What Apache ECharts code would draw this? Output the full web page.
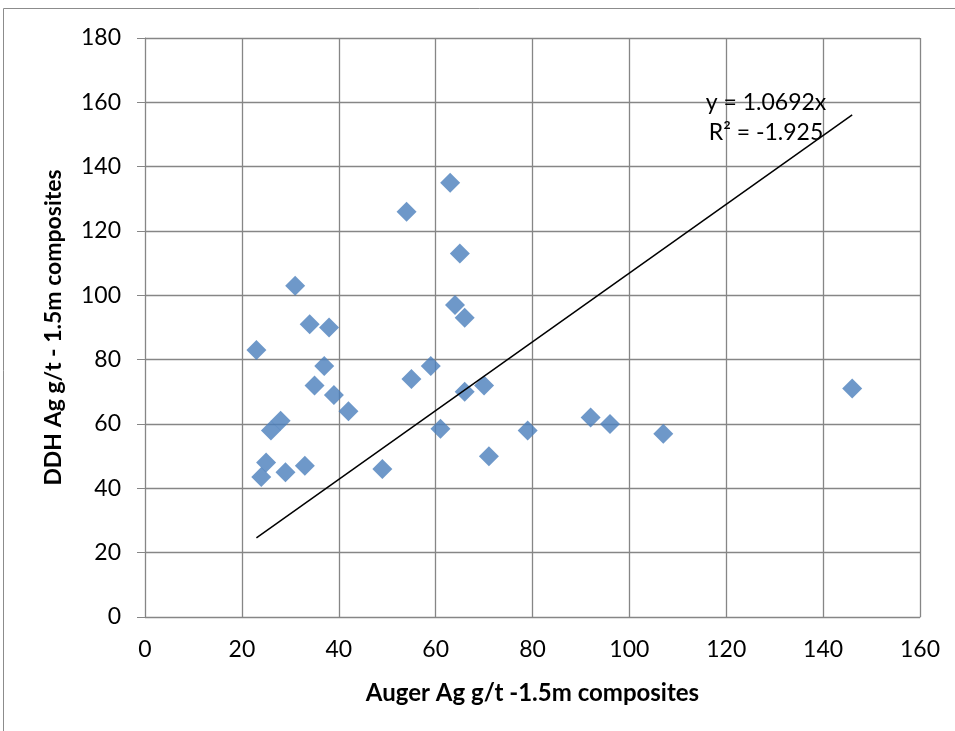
<!DOCTYPE html>
<html>
<head>
<meta charset="utf-8">
<script src="https://cdn.jsdelivr.net/npm/echarts@6/dist/echarts.min.js"></script>
<style>
  html, body { margin: 0; padding: 0; background: #fff; }
  #chart { width: 955px; height: 731px; }
</style>
</head>
<body>
<div id="chart"></div>
<script>
// Auger vs DDH composites (g/t Ag)
const augerAg = [23, 24, 25, 26, 28, 29, 31, 33, 34, 35, 37, 38, 39, 42, 49, 54, 55, 59, 61, 63, 64, 65, 66, 66, 70, 71, 79, 92, 96, 107, 146];
const ddhAg = [83, 43.5, 48, 58, 61, 45, 103, 47, 91, 72, 78, 90, 69, 64, 46, 126, 74, 78, 58.5, 135, 97, 113, 93, 70, 72, 50, 58, 62, 60, 57, 71];
const trendSlope = 1.0692;
const trendLabel = ["y = 1.0692x", "R² = -1.925"];
const xTicks = { min: 0, max: 160, interval: 20 };
const yTicks = { min: 0, max: 180, interval: 20 };

const points = augerAg.map((x, i) => [x, ddhAg[i]]);
const xLo = Math.min(...augerAg);
const xHi = Math.max(...augerAg);
const trendData = [[xLo, xLo * trendSlope], [xHi, xHi * trendSlope]];

const font = "Lato, 'Open Sans', sans-serif";
const gridColor = "#868686";

const chart = echarts.init(document.getElementById("chart"));
chart.setOption({
  animation: false,
  backgroundColor: "#fff",
  grid: { left: 145, right: 35, top: 38, bottom: 114 },
  xAxis: {
    type: "value",
    min: xTicks.min,
    max: xTicks.max,
    interval: xTicks.interval,
    name: "Auger Ag g/t -1.5m composites",
    nameLocation: "middle",
    nameGap: 64,
    nameTextStyle: { fontFamily: font, fontSize: 24, fontWeight: "bold", color: "#000" },
    axisLine: { lineStyle: { color: gridColor } },
    axisTick: { show: false },
    axisLabel: { fontFamily: font, fontSize: 23, color: "#000", margin: 21 },
    splitLine: { lineStyle: { color: gridColor, width: 1.3 } },
  },
  yAxis: {
    type: "value",
    min: yTicks.min,
    max: yTicks.max,
    interval: yTicks.interval,
    name: "DDH Ag g/t - 1.5m composites",
    nameLocation: "middle",
    nameGap: 80,
    nameTextStyle: { fontFamily: font, fontSize: 23, fontWeight: "bold", color: "#000" },
    axisLine: { show: true, lineStyle: { color: gridColor } },
    axisTick: { show: true, length: 8, lineStyle: { color: gridColor } },
    axisLabel: { fontFamily: font, fontSize: 23, color: "#000", margin: 24 },
    splitLine: { lineStyle: { color: gridColor, width: 1.3 } },
  },
  series: [
    {
      type: "line",
      data: trendData,
      showSymbol: false,
      lineStyle: { color: "#000", width: 1.5 },
      z: 3,
    },
    {
      type: "scatter",
      data: points,
      symbol: "diamond",
      symbolSize: 20,
      itemStyle: { color: "#4a7ebb" },
      z: 2,
    },
  ],
  graphic: [
    {
      type: "rect",
      shape: { x: 3.5, y: 8.5, width: 1000, height: 800 },
      style: { fill: "none", stroke: "#8c8c8c", lineWidth: 1 },
      silent: true,
    },
    {
      type: "text",
      x: 766,
      y: 103,
      style: {
        text: trendLabel[0], fontFamily: font, fontSize: 23, fill: "#000",
        align: "center", verticalAlign: "middle",
      },
      z: 10,
    },
    {
      type: "text",
      x: 766,
      y: 133,
      style: {
        text: trendLabel[1], fontFamily: font, fontSize: 23, fill: "#000",
        align: "center", verticalAlign: "middle",
      },
      z: 10,
    },
  ],
});
</script>
</body>
</html>
